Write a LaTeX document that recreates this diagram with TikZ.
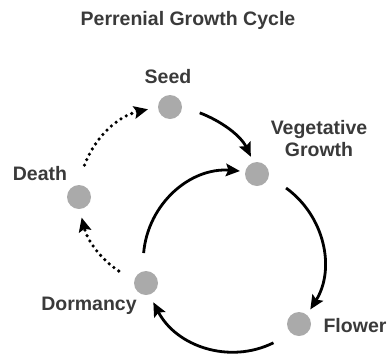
\documentclass[tikz,border=0pt]{standalone}
\usepackage{fontspec}
\setmainfont{Liberation Sans}
\usetikzlibrary{arrows.meta,calc}
\definecolor{txt}{RGB}{58,58,58}
\definecolor{dotc}{RGB}{170,170,170}
\tikzset{
  stage/.style={circle, fill=dotc, minimum size=24pt, inner sep=0pt, outer sep=0pt},
  lbl/.style={anchor=base, text=txt, font=\bfseries\fontsize{19.5}{22}\selectfont, inner sep=0pt, align=center},
  cyc/.style={line width=2.8pt, -{Stealth[length=14pt,width=12.5pt,inset=2.5pt]}},
  dotcyc/.style={line width=3.6pt, line cap=round, dash pattern=on 0pt off 6pt, -{Stealth[length=14pt,width=12.5pt,inset=2.5pt]}},
  % circular arc about centre #1, leaving the start node #2 degrees later,
  % stopping #3 degrees before the target node; tangents #4/#5, control length #6
  arcabout/.style n args={6}{to path={($(#1)!1!-#2:(\tikztostart)$) .. controls +(#4:#6) and +(#5:#6) .. ($(#1)!1!#3:(\tikztotarget)$) \tikztonodes}}
}
\begin{document}
\begin{tikzpicture}[x=1pt,y=1pt]
\useasboundingbox (0,0) rectangle (388,-354);
\coordinate (ca) at (233,-261);
\coordinate (cb) at (168,-196);
\node[lbl] (title) at (188,-25) {Perrenial Growth Cycle};
\node[stage] (seed) at (170,-107) {};
\node[stage] (veg) at (257,-174) {};
\node[stage] (flower) at (299,-324) {};
\node[stage] (dorm) at (146,-283) {};
\node[stage] (death) at (79,-197) {};
\node[lbl] (seedl) at (168,-83) {Seed};
\node[lbl] (vegl) at (319,-156) {Vegetative\\Growth};
\node[lbl] (flowerl) at (355,-332) {Flower};
\node[lbl] (dorml) at (89,-310) {Dormancy};
\node[lbl] (deathl) at (40,-180) {Death};
\draw[cyc] (seed) to[arcabout={cb}{19.6}{11.5}{-20.9}{115.4}{23.2}] (veg);
\draw[cyc] (veg) to[arcabout={ca}{20.6}{11.6}{-36}{57.9}{47.8}] (flower);
\draw[cyc] (flower) to[arcabout={ca}{20}{13.2}{-153.7}{-62.6}{49.5}] (dorm);
\draw[cyc] (dorm) to[arcabout={ca}{19.3}{11}{84.9}{175.6}{49.7}] (veg);
\draw[dotcyc] (dorm) to[arcabout={cb}{19.1}{13.4}{146.7}{-76}{22.8}] (death);
\draw[dotcyc] (death) to[arcabout={cb}{20.9}{14.3}{69.7}{-167}{30.5}] (seed);
\end{tikzpicture}
\end{document}
